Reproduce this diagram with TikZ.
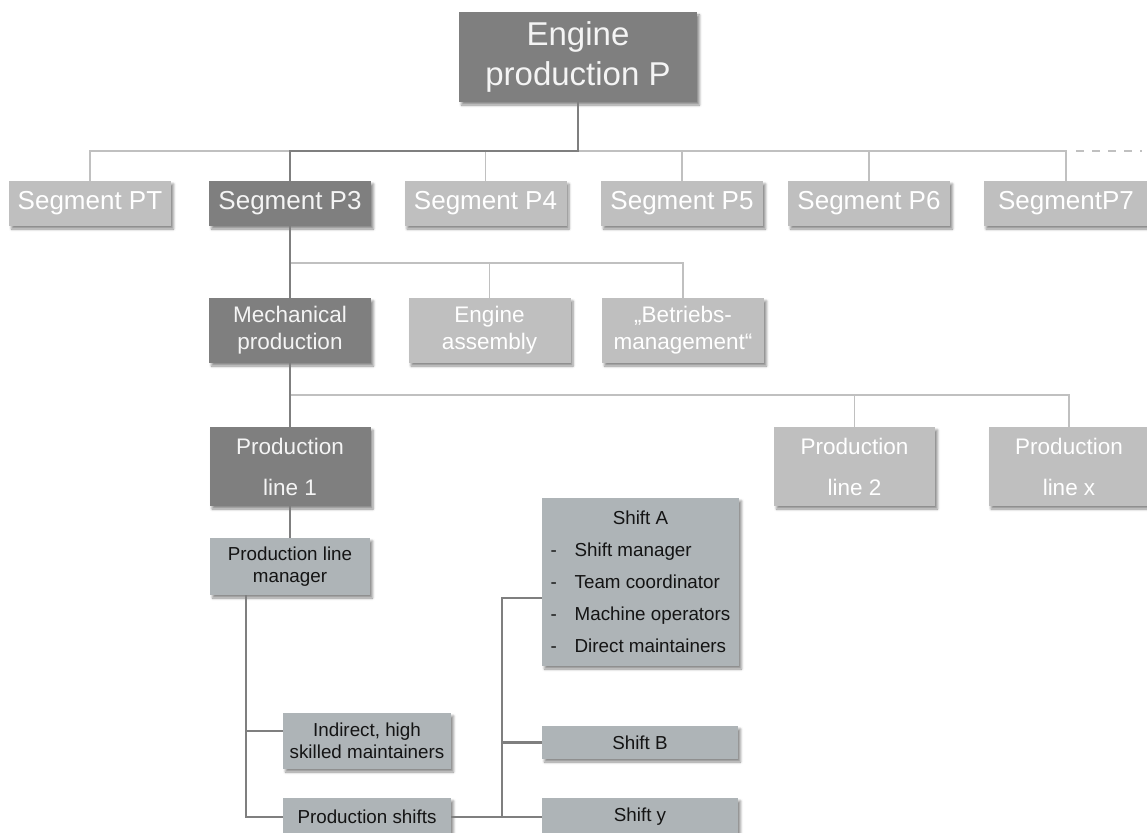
\documentclass[tikz,border=0pt]{standalone}
\usepackage{fontspec}
\setmainfont{Liberation Sans}
\usetikzlibrary{shadows.blur,calc}

\definecolor{boxdark}{HTML}{7F7F7F}
\definecolor{boxlight}{HTML}{BFBFBF}
\definecolor{boxstaff}{RGB}{174,180,183}
\definecolor{txtlight}{HTML}{F4F4F4}
\definecolor{txtdark}{HTML}{141414}
\definecolor{linedark}{HTML}{7F7F7F}
\definecolor{linelight}{HTML}{C0C0C0}

\begin{document}
\begin{tikzpicture}[x=1pt,y=-1pt,
  box/.style={rectangle, inner sep=0pt, align=center,
    blur shadow={shadow xshift=2.5pt, shadow yshift=-3pt,
      shadow blur steps=5, shadow blur radius=2.5pt, shadow opacity=45}},
  darkbox/.style={box, fill=boxdark, text=txtlight},
  lightbox/.style={box, fill=boxlight, text=white},
  staffbox/.style={box, fill=boxstaff, text=txtdark},
  segbox/.style={minimum width=162, minimum height=45,
    font=\fontsize{26}{30}\selectfont},
  unitbox/.style={minimum width=162, minimum height=65,
    font=\fontsize{22.5}{27}\selectfont},
  linebox/.style={minimum width=161, minimum height=79,
    font=\fontsize{22.5}{41}\selectfont},
  smallbox/.style={font=\fontsize{18.8}{22}\selectfont},
  dk/.style={draw=linedark, line width=2.2pt},
  lt/.style={draw=linelight, line width=1.8pt},
]
\useasboundingbox (0,0) rectangle (1147,832);

% plant
\node[darkbox, minimum width=238, minimum height=90,
  font=\fontsize{33}{39.5}\selectfont] (top) at (578,57) {Engine\\production P};

% segments
\node[lightbox, segbox] (pt) at (90,203.5) {Segment PT};
\node[darkbox, segbox] (p3) at (290,203.5) {Segment P3};
\node[lightbox, segbox] (p4) at (485.5,203.5) {Segment P4};
\node[lightbox, segbox] (p5) at (682,203.5) {Segment P5};
\node[lightbox, segbox] (p6) at (869,203.5) {Segment P6};
\node[lightbox, segbox, minimum width=165] (p7) at (1066,203.5) {SegmentP7};

% units of segment P3
\node[darkbox, unitbox] (mech) at (290,330.5) {Mechanical\\production};
\node[lightbox, unitbox] (eng) at (489.5,330.5) {Engine\\assembly};
\node[lightbox, unitbox] (betr) at (683,330.5) {„Betriebs-\\management“};

% production lines
\node[darkbox, linebox] (pl1) at (290,466.5) {Production\\line 1};
\node[lightbox, linebox] (pl2) at (854.5,466.5) {Production\\line 2};
\node[lightbox, linebox] (plx) at (1069,466.5) {Production\\line x};

% staff of production line 1
\node[staffbox, smallbox, minimum width=160, minimum height=57] (mgr) at (290,566.5)
  {Production line\\manager};
\node[staffbox, smallbox, minimum width=168, minimum height=56] (ind) at (367,741)
  {Indirect, high\\skilled maintainers};
\node[staffbox, smallbox, minimum width=168, minimum height=38] (ps) at (367,817)
  {Production shifts};
\node[staffbox, minimum width=197, minimum height=168,
  font=\fontsize{18.8}{32}\selectfont] (sa) at (640.5,582)
  {\begin{tabular}{@{}p{24pt}@{}l@{}}
     \multicolumn{2}{c}{Shift A}\\
     -&Shift manager\\
     -&Team coordinator\\
     -&Machine operators\\
     -&Direct maintainers
   \end{tabular}};
\node[staffbox, smallbox, minimum width=196, minimum height=33] (sb) at (640,742.5) {Shift B};
\node[staffbox, smallbox, minimum width=196, minimum height=38] (sy) at (640,817) {Shift y};

% bus lines
\coordinate (busA) at (0,151);
\coordinate (busB) at (0,263);
\coordinate (busC) at (0,395);
\coordinate (more) at (1142,151);
\coordinate (sbus) at (502,0);

% light connectors
\draw[lt] (pt.north) |- (p7.north |- busA) -- (p7.north);
\foreach \n in {p4,p5,p6} \draw[lt] (\n.north) -- (\n.north |- busA);
\draw[lt, dash pattern=on 8pt off 8pt] ($(p7.north |- busA)+(10,0)$) -- (more);
\draw[lt] (mech.north |- busB) -| (betr.north);
\draw[lt] (eng.north) -- (eng.north |- busB);
\draw[lt] (mech.south |- busC) -| (plx.north);
\draw[lt] (pl2.north) -- (pl2.north |- busC);

% highlighted path
\draw[dk] (top.south) |- (p3.north |- busA) -- (p3.north);
\draw[dk] (p3.south) -- (mech.north);
\draw[dk] (mech.south) -- (pl1.north);
\draw[dk] (pl1.south) -- (mgr.north);

% staff connectors
\coordinate (trunk) at ($(mgr.south west)+(36,0)$);
\draw[dk] (trunk) |- ($(ind.west)+(0,-10)$);
\draw[dk] (trunk) |- (ps.west);
\draw[dk] (ps.east) -- (sy.west);
\draw[dk] ($(sa.west)+(0,16)$) -| (sbus |- sy.west);
\draw[dk] (sb.west) -- (sbus |- sb.west);
\end{tikzpicture}
\end{document}
